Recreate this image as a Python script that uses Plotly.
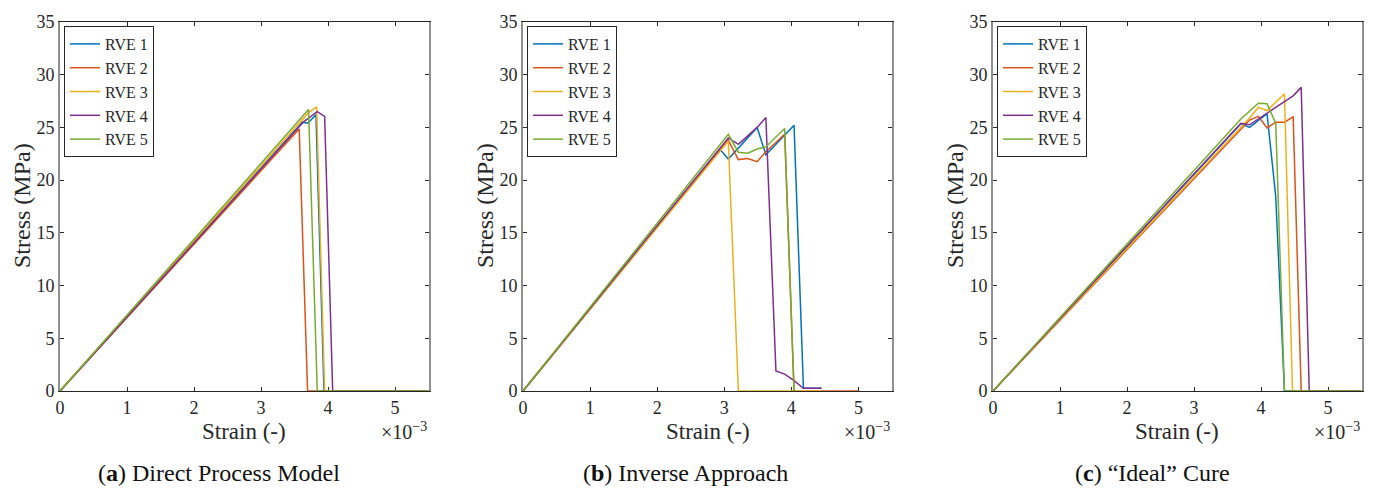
import plotly.graph_objects as go

# ---------------- data (strain in units of 1e-3, stress in MPa) ----------------
series_names = ["RVE 1", "RVE 2", "RVE 3", "RVE 4", "RVE 5"]
colors = ["#0072BD", "#D95319", "#EDB120", "#7E2F8E", "#77AC30"]

# (a) Direct Process Model
a_rve1_strain = [0, 3.62, 3.70, 3.82, 3.94, 5.5]
a_rve1_stress = [0, 25.5, 25.4, 26.2, 0, 0]
a_rve2_strain = [0, 3.57, 3.695, 5.5]
a_rve2_stress = [0, 24.85, 0, 0]
a_rve3_strain = [0, 3.71, 3.83, 3.95, 5.5]
a_rve3_stress = [0, 26.4, 26.95, 0, 0]
a_rve4_strain = [0, 3.63, 3.84, 3.95, 4.07, 5.5]
a_rve4_stress = [0, 25.5, 26.5, 26.05, 0, 0]
a_rve5_strain = [0, 3.71, 3.84, 5.5]
a_rve5_stress = [0, 26.7, 0, 0]

# (b) Inverse Approach
b_rve1_strain = [0, 2.94, 3.06, 3.49, 3.62, 4.04, 4.18, 4.45]
b_rve1_stress = [0, 22.9, 22.0, 25.0, 22.4, 25.2, 0.26, 0.26]
b_rve2_strain = [0, 3.06, 3.21, 3.35, 3.49, 3.62, 3.90, 4.04, 5.0]
b_rve2_stress = [0, 23.8, 21.95, 22.05, 21.75, 22.7, 24.35, 0, 0]
b_rve3_strain = [0, 3.06, 3.21, 4.45]
b_rve3_stress = [0, 23.7, 0, 0]
b_rve4_strain = [0, 3.06, 3.21, 3.49, 3.62, 3.77, 3.90, 4.04, 4.18, 4.45]
b_rve4_stress = [0, 24.0, 23.4, 25.0, 25.95, 1.9, 1.6, 0.98, 0.26, 0.26]
b_rve5_strain = [0, 3.06, 3.21, 3.35, 3.49, 3.62, 3.90, 4.04]
b_rve5_stress = [0, 24.35, 22.65, 22.55, 22.95, 23.15, 24.9, 0]

# (c) "Ideal" Cure
c_rve1_strain = [0, 3.70, 3.83, 4.09, 4.22, 4.35, 5.5]
c_rve1_stress = [0, 25.35, 25.0, 26.3, 18.45, 0, 0]
c_rve2_strain = [0, 3.83, 3.96, 4.09, 4.22, 4.35, 4.48, 4.60, 5.5]
c_rve2_stress = [0, 25.7, 26.05, 24.95, 25.5, 25.5, 26.0, 0, 0]
c_rve3_strain = [0, 3.83, 3.96, 4.09, 4.35, 4.47, 5.5]
c_rve3_stress = [0, 25.9, 26.9, 26.6, 28.2, 0, 0]
c_rve4_strain = [0, 3.70, 3.83, 4.48, 4.60, 4.72, 5.5]
c_rve4_stress = [0, 25.4, 25.25, 28.0, 28.8, 0, 0]
c_rve5_strain = [0, 3.70, 3.96, 4.09, 4.22, 4.35, 5.5]
c_rve5_stress = [0, 25.8, 27.3, 27.25, 25.4, 0, 0]

panels = [
    [(a_rve1_strain, a_rve1_stress), (a_rve2_strain, a_rve2_stress), (a_rve3_strain, a_rve3_stress),
     (a_rve4_strain, a_rve4_stress), (a_rve5_strain, a_rve5_stress)],
    [(b_rve1_strain, b_rve1_stress), (b_rve2_strain, b_rve2_stress), (b_rve3_strain, b_rve3_stress),
     (b_rve4_strain, b_rve4_stress), (b_rve5_strain, b_rve5_stress)],
    [(c_rve1_strain, c_rve1_stress), (c_rve2_strain, c_rve2_stress), (c_rve3_strain, c_rve3_stress),
     (c_rve4_strain, c_rve4_stress), (c_rve5_strain, c_rve5_stress)],
]
captions = ["(<b>a</b>) Direct Process Model", "(<b>b</b>) Inverse Approach", "(<b>c</b>) \u201cIdeal\u201d Cure"]
x_ticks = [0, 1, 2, 3, 4, 5]
y_ticks = [0, 5, 10, 15, 20, 25, 30, 35]

# ---------------- layout geometry (pixels) ----------------
W, H = 1373, 489
ax_left = [60, 523, 993]
ax_right = [428.5, 892, 1361.5]
ax_top, ax_bottom = 22, 391
caption_cx = [219, 685, 1152]

SERIF = "Liberation Serif"
TXT = "#262626"

fig = go.Figure()
for p, data in enumerate(panels):
    xa = "x" if p == 0 else f"x{p+1}"
    ya = "y" if p == 0 else f"y{p+1}"
    lg = "legend" if p == 0 else f"legend{p+1}"
    for i, (sx, sy) in enumerate(data):
        fig.add_trace(go.Scatter(
            x=sx, y=sy, mode="lines", name=series_names[i],
            line=dict(color=colors[i], width=1.5),
            xaxis=xa, yaxis=ya, legend=lg, showlegend=True,
        ))

layout = dict(
    template="none",
    width=W, height=H, margin=dict(l=0, r=0, t=0, b=0, pad=0), autosize=False,
    paper_bgcolor="white", plot_bgcolor="white",
    font=dict(family=SERIF, color=TXT),
    annotations=[],
)
for p in range(3):
    sfx = "" if p == 0 else str(p + 1)
    layout["xaxis" + sfx] = dict(
        domain=[ax_left[p] / W, ax_right[p] / W], range=[0, 5.5], automargin=False,
        anchor="y" + sfx, tickvals=x_ticks, ticks="inside", ticklen=4,
        tickcolor=TXT, showline=True, linecolor=TXT, linewidth=1, mirror="ticks",
        showgrid=False, zeroline=False, tickfont=dict(size=18, family=SERIF, color=TXT),
        layer="below traces", fixedrange=True,
    )
    layout["yaxis" + sfx] = dict(
        domain=[1 - ax_bottom / H, 1 - ax_top / H], range=[0, 35], automargin=False,
        anchor="x" + sfx, tickvals=y_ticks, ticks="inside", ticklen=4,
        tickcolor=TXT, showline=True, linecolor="#8f8f8f", linewidth=2, mirror="ticks",
        showgrid=False, zeroline=False, tickfont=dict(size=18, family=SERIF, color=TXT),
        layer="below traces", fixedrange=True,
    )
    lg = "legend" if p == 0 else f"legend{p+1}"
    layout[lg] = dict(
        x=(ax_left[p] + 4) / W, y=1 - (ax_top + 4) / H, xanchor="left", yanchor="top",
        bgcolor="white", bordercolor=TXT, borderwidth=1,
        font=dict(size=16, family=SERIF, color=TXT), itemwidth=30,
        tracegroupgap=0, traceorder="normal",
    )
    cx = (ax_left[p] + ax_right[p]) / 2
    layout["annotations"] += [
        dict(text="Strain (-)", x=cx / W, y=1 - 431 / H, xref="paper", yref="paper",
             showarrow=False, xanchor="center", yanchor="middle",
             font=dict(size=23, family=SERIF, color=TXT)),
        dict(text="\u00d710<sup>\u22123</sup>", x=ax_right[p] / W, y=1 - 431 / H, xref="paper", yref="paper",
             showarrow=False, xanchor="right", yanchor="middle",
             font=dict(size=20, family=SERIF, color=TXT)),
        dict(text="Stress (MPa)", x=(ax_left[p] - 38) / W, y=1 - 206 / H, xref="paper", yref="paper",
             showarrow=False, xanchor="center", yanchor="middle", textangle=-90,
             font=dict(size=24, family=SERIF, color=TXT)),
        dict(text=captions[p], x=caption_cx[p] / W, y=1 - 473 / H, xref="paper", yref="paper",
             showarrow=False, xanchor="center", yanchor="middle",
             font=dict(size=24, family=SERIF, color="#111111")),
    ]

fig.update_layout(**layout)
fig.write_html(
    "out.html",
    config={"displayModeBar": False},
    post_script="document.body.style.margin='0px';document.body.style.overflow='hidden';",
)
